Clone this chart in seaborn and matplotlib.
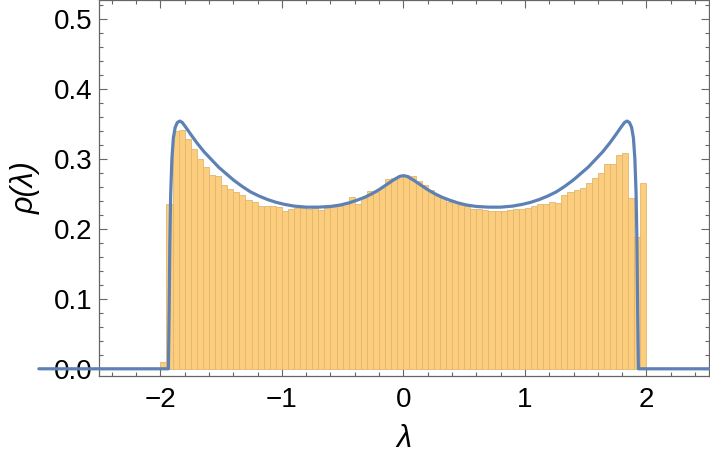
import numpy as np
import pandas as pd
import matplotlib
matplotlib.use("Agg")
import matplotlib.pyplot as plt
import seaborn as sns
from matplotlib.ticker import MultipleLocator

# ---- data ----
bin_start = -2.0
bin_width = 0.05
bar_heights = [
    0.010, 0.236, 0.340, 0.341, 0.328, 0.314, 0.300, 0.289, 0.277, 0.275,
    0.262, 0.257, 0.253, 0.248, 0.241, 0.239, 0.233, 0.232, 0.232, 0.231,
    0.226, 0.229, 0.230, 0.230, 0.229, 0.230, 0.227, 0.230, 0.231, 0.233,
    0.235, 0.245, 0.236, 0.244, 0.254, 0.252, 0.258, 0.271, 0.272, 0.276,
    0.277, 0.275, 0.268, 0.263, 0.256, 0.247, 0.244, 0.239, 0.238, 0.234,
    0.233, 0.229, 0.229, 0.227, 0.226, 0.226, 0.226, 0.227, 0.228, 0.228,
    0.230, 0.232, 0.235, 0.235, 0.239, 0.237, 0.248, 0.252, 0.256, 0.259,
    0.265, 0.272, 0.280, 0.293, 0.293, 0.305, 0.308, 0.244, 0.188, 0.266,
]

curve_x = [
    -3.0, -1.934, -1.928, -1.922, -1.915, -1.905, -1.893, -1.878, -1.86, -1.84,
    -1.82, -1.79, -1.75, -1.70, -1.64, -1.58, -1.52, -1.46, -1.40, -1.33,
    -1.26, -1.19, -1.12, -1.05, -0.98, -0.90, -0.80, -0.70, -0.60, -0.52,
    -0.45, -0.38, -0.32, -0.26, -0.20, -0.14, -0.08, -0.03, 0.00,
    0.03, 0.08, 0.14, 0.20, 0.26, 0.32, 0.38, 0.45, 0.52, 0.60,
    0.70, 0.80, 0.90, 0.98, 1.05, 1.12, 1.19, 1.26, 1.33, 1.40,
    1.46, 1.52, 1.58, 1.64, 1.70, 1.75, 1.79, 1.82, 1.84, 1.86,
    1.878, 1.893, 1.905, 1.915, 1.922, 1.928, 1.934, 3.0,
]
curve_y = [
    0.0, 0.0, 0.08, 0.18, 0.25, 0.30, 0.330, 0.345, 0.352, 0.354,
    0.352, 0.345, 0.335, 0.323, 0.310, 0.299, 0.288, 0.279, 0.270, 0.261,
    0.253, 0.247, 0.242, 0.238, 0.235, 0.2325, 0.231, 0.231, 0.232, 0.234,
    0.237, 0.241, 0.245, 0.250, 0.256, 0.263, 0.270, 0.275, 0.276,
    0.275, 0.270, 0.263, 0.256, 0.250, 0.245, 0.241, 0.237, 0.234, 0.232,
    0.231, 0.231, 0.2325, 0.235, 0.238, 0.242, 0.247, 0.253, 0.261, 0.270,
    0.279, 0.288, 0.299, 0.310, 0.323, 0.335, 0.345, 0.352, 0.354, 0.352,
    0.345, 0.330, 0.30, 0.25, 0.18, 0.08, 0.0, 0.0,
]

x_ticks = [-2, -1, 0, 1, 2]
x_tick_labels = ["\u22122", "\u22121", "0", "1", "2"]
y_ticks = [0.0, 0.1, 0.2, 0.3, 0.4, 0.5]
y_tick_labels = ["0.0", "0.1", "0.2", "0.3", "0.4", "0.5"]

# ---- build ----
n = len(bar_heights)
centers = bin_start + bin_width * (np.arange(n) + 0.5)
bars = pd.DataFrame({"lam": centers, "rho": bar_heights})
curve = pd.DataFrame({"lam": curve_x, "rho": curve_y})

sns.set_style("ticks")
plt.rcParams["font.family"] = ["Liberation Sans", "DejaVu Sans"]

fig = plt.figure(figsize=(7.1, 4.69), dpi=100)
ax = fig.add_axes([99 / 710, 93 / 469, 610 / 710, 376 / 469])

sns.histplot(data=bars, x="lam", weights="rho", binwidth=bin_width,
             binrange=(bin_start, bin_start + n * bin_width), stat="count",
             color="#FCCB76", alpha=0.95, edgecolor="#E0B772", linewidth=0.6,
             ax=ax)
sns.lineplot(data=curve, x="lam", y="rho", sort=False, color="#5E81B5",
             linewidth=2.3, ax=ax, zorder=5)
for ln in ax.lines:
    ln.set_clip_on(False)

ax.set_xlim(-2.505, 2.515)
ax.set_ylim(-0.0103, 0.527)

ax.set_xticks(x_ticks)
ax.set_xticklabels(x_tick_labels, fontsize=20, color="black")
ax.set_yticks(y_ticks)
ax.set_yticklabels(y_tick_labels, fontsize=20, color="black")
ax.xaxis.set_minor_locator(MultipleLocator(0.2))
ax.yaxis.set_minor_locator(MultipleLocator(0.02))
ax.tick_params(which="both", direction="in", top=True, right=True,
               color="#666666", width=0.8)
ax.tick_params(which="major", length=5.5)
ax.tick_params(which="minor", length=3)
ax.tick_params(axis="x", which="major", pad=8)
ax.tick_params(axis="y", which="major", pad=5)

for s in ax.spines.values():
    s.set_visible(True)
    s.set_color("#666666")
    s.set_linewidth(0.9)

ax.set_xlabel("λ", fontsize=22, fontstyle="italic", color="black", labelpad=8)
ax.set_ylabel("ρ(λ)", fontsize=22, fontstyle="italic", color="black", labelpad=9)

fig.savefig("out.png", dpi=100)
